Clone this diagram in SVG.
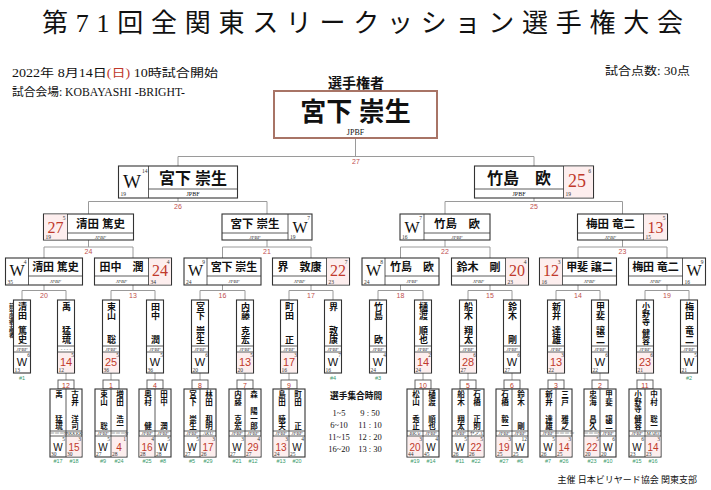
<svg xmlns="http://www.w3.org/2000/svg" width="711" height="490" viewBox="0 0 711 490">
<style>
.bx{fill:#fff;stroke:#333;stroke-width:1.1}
.ch{fill:#fff;stroke:#a87466;stroke-width:2}
.dv{stroke:#333;stroke-width:0.8;fill:none}
.ln{stroke:#9a9a9a;stroke-width:1;fill:none}
.cl{font-family:"Liberation Sans",sans-serif;font-size:7px;fill:#c0504d;text-anchor:middle}
.nm{font-family:"Liberation Serif","Noto Sans CJK JP",serif;font-weight:bold;fill:#111;text-anchor:middle}
.vn{font-family:"Liberation Serif","Noto Sans CJK JP",serif;font-weight:bold;fill:#111;writing-mode:vertical-rl}
.ve{text-anchor:end}
.af{font-family:"Liberation Serif",serif;font-style:italic;font-size:5px;text-anchor:middle;fill:#333}
.sw{font-family:"Liberation Serif",serif;text-anchor:middle;fill:#111}
.ss{font-family:"Liberation Sans",sans-serif;text-anchor:middle;font-size:11px;fill:#111}
.sp{font-family:"Liberation Sans",sans-serif;text-anchor:middle;font-size:10px;fill:#111}
.r{fill:#c0392b}
.sm{font-family:"Liberation Serif",serif;font-size:5.5px;fill:#333}
.e{text-anchor:end}
.sd{font-family:"Liberation Sans",sans-serif;font-size:5.5px;fill:#3a9a6a;text-anchor:middle}
.pk{fill:#fdeeee;stroke:none}
.hd{font-family:"Liberation Serif","Noto Sans CJK JP",serif;fill:#111}
.nb{font-family:"Liberation Sans",sans-serif;font-size:7px;fill:#c0392b;text-anchor:middle}
.nbx{fill:#fff;stroke:#555;stroke-width:0.9}
</style>

<!-- header -->
<g id="header">
<text class="hd" x="42" y="32" font-size="26" textLength="641" lengthAdjust="spacing">第71回全関東スリークッション選手権大会</text>
<text class="hd" x="12" y="77" font-size="11.5" textLength="206" lengthAdjust="spacingAndGlyphs">2022年 8月14日<tspan class="r">(日)</tspan> 10時試合開始</text>
<text class="hd" x="12" y="96" font-size="11.5" textLength="173" lengthAdjust="spacingAndGlyphs">試合会場: KOBAYASHI -BRIGHT-</text>
<text class="hd" x="605" y="75" font-size="11.5" textLength="85" lengthAdjust="spacingAndGlyphs">試合点数: 30点</text>
<text class="hd" x="356" y="88" font-size="14" font-weight="bold" text-anchor="middle">選手権者</text>
<text class="hd" x="330" y="399" font-size="8.7" font-weight="bold">選手集合時間</text>
<text class="hd r" x="339" y="416" font-size="8.5" text-anchor="middle">1~5</text>
<text class="hd r" x="339" y="428" font-size="8.5" text-anchor="middle">6~10</text>
<text class="hd r" x="339" y="440" font-size="8.5" text-anchor="middle">11~15</text>
<text class="hd r" x="339" y="452" font-size="8.5" text-anchor="middle">16~20</text>
<text class="hd" x="370" y="416" font-size="8.5" text-anchor="middle">9 : 50</text>
<text class="hd" x="370" y="428" font-size="8.5" text-anchor="middle">11 : 10</text>
<text class="hd" x="370" y="440" font-size="8.5" text-anchor="middle">12 : 20</text>
<text class="hd" x="370" y="452" font-size="8.5" text-anchor="middle">13 : 30</text>
<text class="hd" x="697" y="483" font-size="9" text-anchor="end">主催 日本ビリヤード協会 関東支部</text>
<text class="vn" x="10.5" y="303" font-size="5" font-weight="normal">前年度選手権者</text>
</g>

<!-- connectors -->
<g id="connectors">
<path class="ln" d="M355.5 138V156.5M178 156.5H534M178 156.5V166M534 156.5V166"/>
<path class="ln" d="M178 198V201.5M88.5 201.5H267M88.5 201.5V214M267 201.5V214"/>
<path class="ln" d="M534 198V201.5M445 201.5H622.5M445 201.5V214M622.5 201.5V214"/>
<path class="ln" d="M88.5 240V247M44 247H133M44 247V258M133 247V258"/>
<path class="ln" d="M267 240V247M222.5 247H311M222.5 247V258M311 247V258"/>
<path class="ln" d="M445 240V247M400.5 247H490M400.5 247V258M490 247V258"/>
<path class="ln" d="M622.5 240V247M578 247H667M578 247V258M667 247V258"/>
<path class="ln" d="M44 285V290.5M22 290.5H66M22 290.5V300M66 290.5V300"/>
<path class="ln" d="M133 285V290.5M111 290.5H155M111 290.5V300M155 290.5V300"/>
<path class="ln" d="M222.5 285V290.5M200 290.5H245M200 290.5V300M245 290.5V300"/>
<path class="ln" d="M311 285V290.5M289 290.5H333M289 290.5V300M333 290.5V300"/>
<path class="ln" d="M400.5 285V290.5M378 290.5H423M378 290.5V300M423 290.5V300"/>
<path class="ln" d="M490 285V290.5M468 290.5H512M468 290.5V300M512 290.5V300"/>
<path class="ln" d="M578 285V290.5M556 290.5H600M556 290.5V300M600 290.5V300"/>
<path class="ln" d="M667 285V290.5M645 290.5H689M645 290.5V300M689 290.5V300"/>
<path class="ln" d="M66 373V380M111 373V380M155 373V380M200 373V380M245 373V380M289 373V380M423 373V380M468 373V380M512 373V380M556 373V380M600 373V380M645 373V380"/>
<text class="cl" x="356" y="164">27</text>
<text class="cl" x="178" y="209">26</text>
<text class="cl" x="534" y="209">25</text>
<text class="cl" x="88.5" y="254">24</text>
<text class="cl" x="267" y="254">21</text>
<text class="cl" x="445" y="254">22</text>
<text class="cl" x="622.5" y="254">23</text>
<text class="cl" x="44" y="297.5">20</text>
<text class="cl" x="133" y="297.5">13</text>
<text class="cl" x="222.5" y="297.5">16</text>
<text class="cl" x="311" y="297.5">17</text>
<text class="cl" x="400.5" y="297.5">18</text>
<text class="cl" x="490" y="297.5">15</text>
<text class="cl" x="578" y="297.5">14</text>
<text class="cl" x="667" y="297.5">19</text>
</g>

<!-- champion -->
<g id="champion">
<rect class="ch" x="274" y="91" width="163" height="47"/>
<text class="nm" x="355.5" y="121" font-size="26">宮下 崇生</text>
<text class="sw" x="355.5" y="135" font-size="8">JPBF</text>
</g>

<!-- level 2 -->
<g id="f-miyashita">
<rect class="bx" x="118.5" y="166" width="119" height="32"/>
<path class="dv" d="M148.5 166V198M148.5 189H237.5"/>
<text class="nm" x="193" y="184" font-size="16">宮下 崇生</text>
<text class="sw" x="193" y="196" font-size="6">JPBF</text>
<text class="sw" x="132" y="188" font-size="19">W</text>
<text class="sm e" x="147.5" y="172.5">14</text>
<text class="sm" x="120.5" y="196">19</text>
</g>
<g id="f-takeshima">
<rect class="bx" x="474.5" y="166" width="119" height="32"/>
<rect class="pk" x="564" y="166.6" width="29" height="30.8"/>
<path class="dv" d="M563.5 166V198M474.5 189H563.5"/>
<text class="nm" x="519" y="184" font-size="16">竹島　欧</text>
<text class="sw" x="519" y="196" font-size="6">JPBF</text>
<text class="sw r" x="577" y="187" font-size="18">25</text>
<text class="sm e" x="591" y="172.5">6</text>
<text class="sm r" x="565.5" y="196">19</text>
</g>

<!-- level 3 -->
<g id="s-kiyota">
<rect class="bx" x="43.5" y="214" width="90" height="26"/>
<rect class="pk" x="44" y="214.5" width="23" height="25"/>
<path class="dv" d="M67.5 214V240M67.5 233H133.5"/>
<text class="nm" x="100.5" y="228" font-size="11.5">清田 篤史</text>
<text class="af" x="100.5" y="238.5">JPBF</text>
<text class="sw r" x="55.5" y="232.5" font-size="16">27</text>
<text class="sm e" x="65.5" y="220">5</text>
<text class="sm r" x="45.5" y="239">19</text>
</g>
<g id="s-miyashita">
<rect class="bx" x="222" y="214" width="90" height="26"/>
<path class="dv" d="M288 214V240M222 233H288"/>
<text class="nm" x="255" y="228" font-size="11.5">宮下 崇生</text>
<text class="af" x="255" y="238.5">JPBF</text>
<text class="sw" x="300" y="232.5" font-size="16">W</text>
<text class="sm e" x="310" y="220">7</text>
<text class="sm" x="290" y="239">19</text>
</g>
<g id="s-takeshima">
<rect class="bx" x="400" y="214" width="90" height="26"/>
<path class="dv" d="M424 214V240M424 233H490"/>
<text class="nm" x="457" y="228" font-size="11.5">竹島　欧</text>
<text class="af" x="457" y="238.5">JPBF</text>
<text class="sw" x="412" y="232.5" font-size="16">W</text>
<text class="sm e" x="422" y="220">7</text>
<text class="sm" x="402" y="239">16</text>
</g>
<g id="s-umeda">
<rect class="bx" x="577.5" y="214" width="90" height="26"/>
<rect class="pk" x="644" y="214.5" width="23" height="25"/>
<path class="dv" d="M643.5 214V240M577.5 233H643.5"/>
<text class="nm" x="610.5" y="228" font-size="11.5">梅田 竜二</text>
<text class="af" x="610.5" y="238.5">JPBF</text>
<text class="sw r" x="655.5" y="232.5" font-size="16">13</text>
<text class="sm e" x="665.5" y="220">5</text>
<text class="sm r" x="645.5" y="239">15</text>
</g>

<!-- level 4 -->
<g id="q-kiyota">
<rect class="bx" x="5.5" y="258" width="77" height="27"/>
<path class="dv" d="M28.5 258V285M28.5 276H82.5"/>
<text class="nm" x="55.5" y="271" font-size="11">清田 篤史</text>
<text class="af" x="55.5" y="283">JPBF</text>
<text class="sw" x="17" y="276" font-size="16">W</text>
<text class="sm e" x="26.5" y="264">4</text>
<text class="sm" x="7.5" y="284">35</text>
</g>
<g id="q-tanaka">
<rect class="bx" x="94.5" y="258" width="77" height="27"/>
<rect class="pk" x="149" y="258.5" width="22" height="26"/>
<path class="dv" d="M148.5 258V285M94.5 276H148.5"/>
<text class="nm" x="121.5" y="271" font-size="11">田中　潤</text>
<text class="af" x="121.5" y="283">JPBF</text>
<text class="sw r" x="160" y="276" font-size="16">24</text>
<text class="sm e" x="169.5" y="264">4</text>
<text class="sm r" x="150.5" y="284">34</text>
</g>
<g id="q-miyashita">
<rect class="bx" x="184" y="258" width="77" height="27"/>
<path class="dv" d="M207 258V285M207 276H261"/>
<text class="nm" x="234" y="271" font-size="11">宮下 崇生</text>
<text class="af" x="234" y="283">JPBF</text>
<text class="sw" x="195.5" y="276" font-size="16">W</text>
<text class="sm e" x="205" y="264">9</text>
<text class="sm" x="186" y="284">24</text>
</g>
<g id="q-sakai">
<rect class="bx" x="272.5" y="258" width="77" height="27"/>
<rect class="pk" x="327" y="258.5" width="22" height="26"/>
<path class="dv" d="M326.5 258V285M272.5 276H326.5"/>
<text class="nm" x="299.5" y="271" font-size="11">界　敦康</text>
<text class="af" x="299.5" y="283">JPBF</text>
<text class="sw r" x="338" y="276" font-size="16">22</text>
<text class="sm e" x="347.5" y="264">7</text>
<text class="sm r" x="328.5" y="284">23</text>
</g>
<g id="q-takeshima">
<rect class="bx" x="362" y="258" width="77" height="27"/>
<path class="dv" d="M385 258V285M385 276H439"/>
<text class="nm" x="412" y="271" font-size="11">竹島　欧</text>
<text class="af" x="412" y="283">JPBF</text>
<text class="sw" x="373.5" y="276" font-size="16">W</text>
<text class="sm e" x="383" y="264">8</text>
<text class="sm" x="364" y="284">24</text>
</g>
<g id="q-suzuki">
<rect class="bx" x="451.5" y="258" width="77" height="27"/>
<rect class="pk" x="506" y="258.5" width="22" height="26"/>
<path class="dv" d="M505.5 258V285M451.5 276H505.5"/>
<text class="nm" x="478.5" y="271" font-size="11">鈴木　剛</text>
<text class="af" x="478.5" y="283">JPBF</text>
<text class="sw r" x="517" y="276" font-size="16">20</text>
<text class="sm e" x="526.5" y="264">4</text>
<text class="sm r" x="507.5" y="284">23</text>
</g>
<g id="q-kai">
<rect class="bx" x="539.5" y="258" width="77" height="27"/>
<rect class="pk" x="540" y="258.5" width="22" height="26"/>
<path class="dv" d="M562.5 258V285M562.5 276H616.5"/>
<text class="nm" x="589.5" y="271" font-size="11">甲斐 譲二</text>
<text class="af" x="589.5" y="283">JPBF</text>
<text class="sw r" x="551" y="276" font-size="16">12</text>
<text class="sm e" x="560.5" y="264">3</text>
<text class="sm r" x="541.5" y="284">16</text>
</g>
<g id="q-umeda">
<rect class="bx" x="628.5" y="258" width="77" height="27"/>
<path class="dv" d="M682.5 258V285M628.5 276H682.5"/>
<text class="nm" x="655.5" y="271" font-size="11">梅田 竜二</text>
<text class="af" x="655.5" y="283">JPBF</text>
<text class="sw" x="694" y="276" font-size="16">W</text>
<text class="sm e" x="703.5" y="264">9</text>
<text class="sm" x="684.5" y="284">16</text>
</g>

<!-- level 5 (round of 16) -->
<g id="r-kiyota">
<rect class="bx" x="13.5" y="300" width="17" height="73"/>
<path class="dv" d="M13.5 346H30.5M13.5 352H30.5"/>
<text class="vn" x="22" y="302" font-size="9">清田</text>
<text class="vn ve" x="22" y="344" font-size="9">篤史</text>
<text class="af" x="22" y="350.5">JPBF</text>
<text class="ss" x="22" y="365.5">W</text>
<text class="sm e" x="30" y="357">6</text>
<text class="sm" x="14.5" y="372">13</text>
<text class="sd" x="22" y="379.5">#1</text>
</g>
<g id="r-u">
<rect class="bx" x="57.5" y="300" width="17" height="73"/>
<rect class="pk" x="58" y="352.5" width="16" height="20"/>
<path class="dv" d="M57.5 346H74.5M57.5 352H74.5"/>
<text class="vn" x="66" y="302" font-size="9">禹</text>
<text class="vn ve" x="66" y="344" font-size="9">猛琉</text>
<text class="af" x="66" y="350.5">- - - -</text>
<text class="ss r" x="66" y="365.5">14</text>
<text class="sm e" x="74" y="357">5</text>
<text class="sm r" x="58.5" y="372">12</text>
</g>
<g id="r-tsukayama">
<rect class="bx" x="102.5" y="300" width="17" height="73"/>
<rect class="pk" x="103" y="352.5" width="16" height="20"/>
<path class="dv" d="M102.5 346H119.5M102.5 352H119.5"/>
<text class="vn" x="111" y="302" font-size="9">束山</text>
<text class="vn ve" x="111" y="344" font-size="9">聡</text>
<text class="af" x="111" y="350.5">JPBF</text>
<text class="ss r" x="111" y="365.5">25</text>
<text class="sm e" x="119" y="357">5</text>
<text class="sm r" x="103.5" y="372">36</text>
</g>
<g id="r-tanaka">
<rect class="bx" x="146.5" y="300" width="17" height="73"/>
<path class="dv" d="M146.5 346H163.5M146.5 352H163.5"/>
<text class="vn" x="155" y="302" font-size="9">田中</text>
<text class="vn ve" x="155" y="344" font-size="9">潤</text>
<text class="af" x="155" y="350.5">JPBF</text>
<text class="ss" x="155" y="365.5">W</text>
<text class="sm e" x="163" y="357">5</text>
<text class="sm" x="147.5" y="372">36</text>
</g>
<g id="r-miyashita">
<rect class="bx" x="191.5" y="300" width="17" height="73"/>
<path class="dv" d="M191.5 346H208.5M191.5 352H208.5"/>
<text class="vn" x="200" y="302" font-size="9">宮下</text>
<text class="vn ve" x="200" y="344" font-size="9">崇生</text>
<text class="af" x="200" y="350.5">JPBF</text>
<text class="ss" x="200" y="365.5">W</text>
<text class="sm e" x="208" y="357">6</text>
<text class="sm" x="192.5" y="372">20</text>
</g>
<g id="r-naito">
<rect class="bx" x="236.5" y="300" width="17" height="73"/>
<rect class="pk" x="237" y="352.5" width="16" height="20"/>
<path class="dv" d="M236.5 346H253.5M236.5 352H253.5"/>
<text class="vn" x="245" y="302" font-size="9">内藤</text>
<text class="vn ve" x="245" y="344" font-size="9">克宏</text>
<text class="af" x="245" y="350.5">JPBF</text>
<text class="ss r" x="245" y="365.5">13</text>
<text class="sm e" x="253" y="357">5</text>
<text class="sm r" x="237.5" y="372">20</text>
</g>
<g id="r-machida">
<rect class="bx" x="280.5" y="300" width="17" height="73"/>
<rect class="pk" x="281" y="352.5" width="16" height="20"/>
<path class="dv" d="M280.5 346H297.5M280.5 352H297.5"/>
<text class="vn" x="289" y="302" font-size="9">町田</text>
<text class="vn ve" x="289" y="344" font-size="9">正</text>
<text class="af" x="289" y="350.5">JPBF</text>
<text class="ss r" x="289" y="365.5">17</text>
<text class="sm e" x="297" y="357">3</text>
<text class="sm r" x="281.5" y="372">16</text>
</g>
<g id="r-sakai">
<rect class="bx" x="324.5" y="300" width="17" height="73"/>
<path class="dv" d="M324.5 346H341.5M324.5 352H341.5"/>
<text class="vn" x="333" y="302" font-size="9">界</text>
<text class="vn ve" x="333" y="344" font-size="9">敦康</text>
<text class="af" x="333" y="350.5">JPBF</text>
<text class="ss" x="333" y="365.5">W</text>
<text class="sm e" x="341" y="357">7</text>
<text class="sm" x="325.5" y="372">16</text>
<text class="sd" x="333" y="379.5">#4</text>
</g>
<g id="r-takeshima">
<rect class="bx" x="369.5" y="300" width="17" height="73"/>
<path class="dv" d="M369.5 346H386.5M369.5 352H386.5"/>
<text class="vn" x="378" y="302" font-size="9">竹島</text>
<text class="vn ve" x="378" y="344" font-size="9">欧</text>
<text class="af" x="378" y="350.5">JPBF</text>
<text class="ss" x="378" y="365.5">W</text>
<text class="sm e" x="386" y="357">4</text>
<text class="sm" x="370.5" y="372">24</text>
<text class="sd" x="378" y="379.5">#3</text>
</g>
<g id="r-hiwatashi">
<rect class="bx" x="414.5" y="300" width="17" height="73"/>
<rect class="pk" x="415" y="352.5" width="16" height="20"/>
<path class="dv" d="M414.5 346H431.5M414.5 352H431.5"/>
<text class="vn" x="423" y="302" font-size="9">樋渡</text>
<text class="vn ve" x="423" y="344" font-size="9">順也</text>
<text class="af" x="423" y="350.5">JPBF</text>
<text class="ss r" x="423" y="365.5">14</text>
<text class="sm e" x="431" y="357">2</text>
<text class="sm r" x="415.5" y="372">24</text>
</g>
<g id="r-funaki">
<rect class="bx" x="459.5" y="300" width="17" height="73"/>
<rect class="pk" x="460" y="352.5" width="16" height="20"/>
<path class="dv" d="M459.5 346H476.5M459.5 352H476.5"/>
<text class="vn" x="468" y="302" font-size="9">船木</text>
<text class="vn ve" x="468" y="344" font-size="9">翔太</text>
<text class="af" x="468" y="350.5">JPBF</text>
<text class="ss r" x="468" y="365.5">28</text>
<text class="sm e" x="476" y="357">6</text>
<text class="sm r" x="460.5" y="372">27</text>
</g>
<g id="r-suzuki">
<rect class="bx" x="503.5" y="300" width="17" height="73"/>
<path class="dv" d="M503.5 346H520.5M503.5 352H520.5"/>
<text class="vn" x="512" y="302" font-size="9">鈴木</text>
<text class="vn ve" x="512" y="344" font-size="9">剛</text>
<text class="af" x="512" y="350.5">JPBF</text>
<text class="ss" x="512" y="365.5">W</text>
<text class="sm e" x="520" y="357">6</text>
<text class="sm" x="504.5" y="372">27</text>
</g>
<g id="r-arai">
<rect class="bx" x="547.5" y="300" width="17" height="73"/>
<rect class="pk" x="548" y="352.5" width="16" height="20"/>
<path class="dv" d="M547.5 346H564.5M547.5 352H564.5"/>
<text class="vn" x="556" y="302" font-size="9">新井</text>
<text class="vn ve" x="556" y="344" font-size="9">達雄</text>
<text class="af" x="556" y="350.5">JPBF</text>
<text class="ss r" x="556" y="365.5">13</text>
<text class="sm e" x="564" y="357">3</text>
<text class="sm r" x="548.5" y="372">22</text>
</g>
<g id="r-kai">
<rect class="bx" x="591.5" y="300" width="17" height="73"/>
<path class="dv" d="M591.5 346H608.5M591.5 352H608.5"/>
<text class="vn" x="600" y="302" font-size="9">甲斐</text>
<text class="vn ve" x="600" y="344" font-size="9">譲二</text>
<text class="af" x="600" y="350.5">JPBF</text>
<text class="ss" x="600" y="365.5">W</text>
<text class="sm e" x="608" y="357">6</text>
<text class="sm" x="592.5" y="372">22</text>
</g>
<g id="r-onodera">
<rect class="bx" x="636.5" y="300" width="17" height="73"/>
<rect class="pk" x="637" y="352.5" width="16" height="20"/>
<path class="dv" d="M636.5 346H653.5M636.5 352H653.5"/>
<text class="vn" x="645" y="302" font-size="8">小野寺</text>
<text class="vn ve" x="645" y="345" font-size="8">健容</text>
<text class="af" x="645" y="350.5">JPBF</text>
<text class="ss r" x="645" y="365.5">23</text>
<text class="sm e" x="653" y="357">6</text>
<text class="sm r" x="637.5" y="372">21</text>
</g>
<g id="r-umeda">
<rect class="bx" x="680.5" y="300" width="17" height="73"/>
<path class="dv" d="M680.5 346H697.5M680.5 352H697.5"/>
<text class="vn" x="689" y="302" font-size="9">梅田</text>
<text class="vn ve" x="689" y="344" font-size="9">竜二</text>
<text class="af" x="689" y="350.5">JPBF</text>
<text class="ss" x="689" y="365.5">W</text>
<text class="sm e" x="697" y="357">5</text>
<text class="sm" x="681.5" y="372">21</text>
<text class="sd" x="689" y="379.5">#2</text>
</g>

<!-- first round pairs -->
<g id="m12">
<rect class="nbx" x="58" y="380" width="16" height="9"/>
<text class="nb" x="66" y="387.5">12</text>
<rect class="bx" x="50" y="389" width="32" height="68"/>
<rect class="pk" x="66.5" y="436.5" width="15" height="20"/>
<path class="dv" d="M66 389V457M50 431H82M50 436H82"/>
<text class="vn" x="58" y="390.5" font-size="7.5">禹</text>
<text class="vn ve" x="58" y="430" font-size="7.5">猛琉</text>
<text class="vn" x="74" y="390.5" font-size="7.5">古井</text>
<text class="vn ve" x="74" y="430" font-size="7.5">洋司</text>
<text class="af" x="58" y="434.8" font-size="3.5">ーーーN</text>
<text class="af" x="74" y="434.8" font-size="3.5">NKKKK</text>
<text class="sp" x="58" y="450.5">W</text>
<text class="sp r" x="74" y="450.5">15</text>
<text class="sm e" x="65" y="441" font-size="5">5</text>
<text class="sm e" x="81" y="441" font-size="5">3</text>
<text class="sm" x="51" y="456" font-size="5">30</text>
<text class="sm r" x="67" y="456" font-size="5">30</text>
<text class="sd" x="58" y="463">#17</text>
<text class="sd" x="74" y="463">#18</text>
</g>
<g id="m1">
<rect class="nbx" x="103" y="380" width="16" height="9"/>
<text class="nb" x="111" y="387.5">1</text>
<rect class="bx" x="95" y="389" width="32" height="68"/>
<rect class="pk" x="111.5" y="436.5" width="15" height="20"/>
<path class="dv" d="M111 389V457M95 431H127M95 436H127"/>
<text class="vn" x="103" y="390.5" font-size="7.5">束山</text>
<text class="vn ve" x="103" y="430" font-size="7.5">聡</text>
<text class="vn" x="119" y="390.5" font-size="7.5">増田</text>
<text class="vn ve" x="119" y="430" font-size="7.5">浩一</text>
<text class="af" x="103" y="434.8" font-size="3.5">JPBF</text>
<text class="af" x="119" y="434.8" font-size="3.5">ーーーN</text>
<text class="sp" x="103" y="450.5">W</text>
<text class="sp r" x="119" y="450.5">4</text>
<text class="sm e" x="110" y="441" font-size="5">5</text>
<text class="sm e" x="126" y="441" font-size="5">1</text>
<text class="sm" x="96" y="456" font-size="5">27</text>
<text class="sm r" x="112" y="456" font-size="5">28</text>
<text class="sd" x="103" y="463">#9</text>
<text class="sd" x="119" y="463">#24</text>
</g>
<g id="m4">
<rect class="nbx" x="147" y="380" width="16" height="9"/>
<text class="nb" x="155" y="387.5">4</text>
<rect class="bx" x="139" y="389" width="32" height="68"/>
<rect class="pk" x="139.5" y="436.5" width="15" height="20"/>
<path class="dv" d="M155 389V457M139 431H171M139 436H171"/>
<text class="vn" x="147" y="390.5" font-size="7.5">奥村</text>
<text class="vn ve" x="147" y="430" font-size="7.5">健</text>
<text class="vn" x="163" y="390.5" font-size="7.5">田中</text>
<text class="vn ve" x="163" y="430" font-size="7.5">潤</text>
<text class="af" x="147" y="434.8" font-size="3.5">JPBF</text>
<text class="af" x="163" y="434.8" font-size="3.5">JPBF</text>
<text class="sp r" x="147" y="450.5">16</text>
<text class="sp" x="163" y="450.5">W</text>
<text class="sm e" x="154" y="441" font-size="5">4</text>
<text class="sm e" x="170" y="441" font-size="5">5</text>
<text class="sm r" x="140" y="456" font-size="5">28</text>
<text class="sm" x="156" y="456" font-size="5">28</text>
<text class="sd" x="147" y="463">#25</text>
<text class="sd" x="163" y="463">#8</text>
</g>
<g id="m8">
<rect class="nbx" x="192" y="380" width="16" height="9"/>
<text class="nb" x="200" y="387.5">8</text>
<rect class="bx" x="184" y="389" width="32" height="68"/>
<rect class="pk" x="200.5" y="436.5" width="15" height="20"/>
<path class="dv" d="M200 389V457M184 431H216M184 436H216"/>
<text class="vn" x="192" y="390.5" font-size="7.5">宮下</text>
<text class="vn ve" x="192" y="430" font-size="7.5">崇生</text>
<text class="vn" x="208" y="390.5" font-size="7.5">林田</text>
<text class="vn ve" x="208" y="430" font-size="7.5">和明</text>
<text class="af" x="192" y="434.8" font-size="3.5">JPBF</text>
<text class="af" x="208" y="434.8" font-size="3.5">AKU</text>
<text class="sp" x="192" y="450.5">W</text>
<text class="sp r" x="208" y="450.5">17</text>
<text class="sm e" x="199" y="441" font-size="5">5</text>
<text class="sm e" x="215" y="441" font-size="5">3</text>
<text class="sm" x="185" y="456" font-size="5">27</text>
<text class="sm r" x="201" y="456" font-size="5">26</text>
<text class="sd" x="192" y="463">#5</text>
<text class="sd" x="208" y="463">#29</text>
</g>
<g id="m7">
<rect class="nbx" x="237" y="380" width="16" height="9"/>
<text class="nb" x="245" y="387.5">7</text>
<rect class="bx" x="229" y="389" width="32" height="68"/>
<rect class="pk" x="245.5" y="436.5" width="15" height="20"/>
<path class="dv" d="M245 389V457M229 431H261M229 436H261"/>
<text class="vn" x="237" y="390.5" font-size="7.5">内藤</text>
<text class="vn ve" x="237" y="430" font-size="7.5">克宏</text>
<text class="vn" x="253" y="390.5" font-size="7.5">森</text>
<text class="vn ve" x="253" y="430" font-size="7.5">陽一郎</text>
<text class="af" x="237" y="434.8" font-size="3.5">JPBF</text>
<text class="af" x="253" y="434.8" font-size="3.5">JPBF</text>
<text class="sp" x="237" y="450.5">W</text>
<text class="sp r" x="253" y="450.5">29</text>
<text class="sm e" x="244" y="441" font-size="5">3</text>
<text class="sm e" x="260" y="441" font-size="5">4</text>
<text class="sm" x="230" y="456" font-size="5">27</text>
<text class="sm r" x="246" y="456" font-size="5">27</text>
<text class="sd" x="237" y="463">#21</text>
<text class="sd" x="253" y="463">#12</text>
</g>
<g id="m9">
<rect class="nbx" x="281" y="380" width="16" height="9"/>
<text class="nb" x="289" y="387.5">9</text>
<rect class="bx" x="273" y="389" width="32" height="68"/>
<rect class="pk" x="273.5" y="436.5" width="15" height="20"/>
<path class="dv" d="M289 389V457M273 431H305M273 436H305"/>
<text class="vn" x="281" y="390.5" font-size="7.5">島田</text>
<text class="vn ve" x="281" y="430" font-size="7.5">暁夫</text>
<text class="vn" x="297" y="390.5" font-size="7.5">町田</text>
<text class="vn ve" x="297" y="430" font-size="7.5">正</text>
<text class="af" x="281" y="434.8" font-size="3.5">JPBF</text>
<text class="af" x="297" y="434.8" font-size="3.5">JPBF</text>
<text class="sp r" x="281" y="450.5">13</text>
<text class="sp" x="297" y="450.5">W</text>
<text class="sm e" x="288" y="441" font-size="5">3</text>
<text class="sm e" x="304" y="441" font-size="5">4</text>
<text class="sm r" x="274" y="456" font-size="5">24</text>
<text class="sm" x="290" y="456" font-size="5">25</text>
<text class="sd" x="281" y="463">#13</text>
<text class="sd" x="297" y="463">#20</text>
</g>
<g id="m10">
<rect class="nbx" x="415" y="380" width="16" height="9"/>
<text class="nb" x="423" y="387.5">10</text>
<rect class="bx" x="407" y="389" width="32" height="68"/>
<rect class="pk" x="407.5" y="436.5" width="15" height="20"/>
<path class="dv" d="M423 389V457M407 431H439M407 436H439"/>
<text class="vn" x="415" y="390.5" font-size="7.5">松山</text>
<text class="vn ve" x="415" y="430" font-size="7.5">秀正</text>
<text class="vn" x="431" y="390.5" font-size="7.5">樋渡</text>
<text class="vn ve" x="431" y="430" font-size="7.5">順也</text>
<text class="af" x="415" y="434.8" font-size="3.5">BKAi</text>
<text class="af" x="431" y="434.8" font-size="3.5">JPBF</text>
<text class="sp r" x="415" y="450.5">20</text>
<text class="sp" x="431" y="450.5">W</text>
<text class="sm e" x="422" y="441" font-size="5">3</text>
<text class="sm e" x="438" y="441" font-size="5">4</text>
<text class="sm r" x="408" y="456" font-size="5">44</text>
<text class="sm" x="424" y="456" font-size="5">45</text>
<text class="sd" x="415" y="463">#19</text>
<text class="sd" x="431" y="463">#14</text>
</g>
<g id="m5">
<rect class="nbx" x="460" y="380" width="16" height="9"/>
<text class="nb" x="468" y="387.5">5</text>
<rect class="bx" x="452" y="389" width="32" height="68"/>
<rect class="pk" x="468.5" y="436.5" width="15" height="20"/>
<path class="dv" d="M468 389V457M452 431H484M452 436H484"/>
<text class="vn" x="460" y="390.5" font-size="7.5">船木</text>
<text class="vn ve" x="460" y="430" font-size="7.5">翔太</text>
<text class="vn" x="476" y="390.5" font-size="7.5">石橋</text>
<text class="vn ve" x="476" y="430" font-size="7.5">正則</text>
<text class="af" x="460" y="434.8" font-size="3.5">JPBF</text>
<text class="af" x="476" y="434.8" font-size="3.5">ヤメA</text>
<text class="sp" x="460" y="450.5">W</text>
<text class="sp r" x="476" y="450.5">22</text>
<text class="sm e" x="467" y="441" font-size="5">5</text>
<text class="sm e" x="483" y="441" font-size="5">5</text>
<text class="sm" x="453" y="456" font-size="5">26</text>
<text class="sm r" x="469" y="456" font-size="5">26</text>
<text class="sd" x="460" y="463">#11</text>
<text class="sd" x="476" y="463">#22</text>
</g>
<g id="m6">
<rect class="nbx" x="504" y="380" width="16" height="9"/>
<text class="nb" x="512" y="387.5">6</text>
<rect class="bx" x="496" y="389" width="32" height="68"/>
<rect class="pk" x="496.5" y="436.5" width="15" height="20"/>
<path class="dv" d="M512 389V457M496 431H528M496 436H528"/>
<text class="vn" x="504" y="390.5" font-size="7.5">石橋</text>
<text class="vn ve" x="504" y="430" font-size="7.5">毅一</text>
<text class="vn" x="520" y="390.5" font-size="7.5">鈴木</text>
<text class="vn ve" x="520" y="430" font-size="7.5">剛</text>
<text class="af" x="504" y="434.8" font-size="3.5">JPBF</text>
<text class="af" x="520" y="434.8" font-size="3.5">JPBF</text>
<text class="sp r" x="504" y="450.5">19</text>
<text class="sp" x="520" y="450.5">W</text>
<text class="sm e" x="511" y="441" font-size="5">3</text>
<text class="sm e" x="527" y="441" font-size="5">12</text>
<text class="sm r" x="497" y="456" font-size="5">25</text>
<text class="sm" x="513" y="456" font-size="5">25</text>
<text class="sd" x="504" y="463">#27</text>
<text class="sd" x="520" y="463">#6</text>
</g>
<g id="m3">
<rect class="nbx" x="548" y="380" width="16" height="9"/>
<text class="nb" x="556" y="387.5">3</text>
<rect class="bx" x="540" y="389" width="32" height="68"/>
<rect class="pk" x="556.5" y="436.5" width="15" height="20"/>
<path class="dv" d="M556 389V457M540 431H572M540 436H572"/>
<text class="vn" x="548" y="390.5" font-size="7.5">新井</text>
<text class="vn ve" x="548" y="430" font-size="7.5">達雄</text>
<text class="vn" x="564" y="390.5" font-size="7.5">三戸</text>
<text class="vn ve" x="564" y="430" font-size="7.5">雅之</text>
<text class="af" x="548" y="434.8" font-size="3.5">JPBF</text>
<text class="af" x="564" y="434.8" font-size="3.5">ーーーー</text>
<text class="sp" x="548" y="450.5">W</text>
<text class="sp r" x="564" y="450.5">14</text>
<text class="sm e" x="555" y="441" font-size="5">5</text>
<text class="sm e" x="571" y="441" font-size="5">3</text>
<text class="sm" x="541" y="456" font-size="5">26</text>
<text class="sm r" x="557" y="456" font-size="5">25</text>
<text class="sd" x="548" y="463">#7</text>
<text class="sd" x="564" y="463">#26</text>
</g>
<g id="m2">
<rect class="nbx" x="592" y="380" width="16" height="9"/>
<text class="nb" x="600" y="387.5">2</text>
<rect class="bx" x="584" y="389" width="32" height="68"/>
<rect class="pk" x="584.5" y="436.5" width="15" height="20"/>
<path class="dv" d="M600 389V457M584 431H616M584 436H616"/>
<text class="vn" x="592" y="390.5" font-size="7.5">忠海</text>
<text class="vn ve" x="592" y="430" font-size="7.5">昌久</text>
<text class="vn" x="608" y="390.5" font-size="7.5">甲斐</text>
<text class="vn ve" x="608" y="430" font-size="7.5">譲二</text>
<text class="af" x="592" y="434.8" font-size="3.5">ーーーN</text>
<text class="af" x="608" y="434.8" font-size="3.5">JPBF</text>
<text class="sp r" x="592" y="450.5">22</text>
<text class="sp" x="608" y="450.5">W</text>
<text class="sm e" x="599" y="441" font-size="5">5</text>
<text class="sm e" x="615" y="441" font-size="5">6</text>
<text class="sm r" x="585" y="456" font-size="5">20</text>
<text class="sm" x="601" y="456" font-size="5">20</text>
<text class="sd" x="592" y="463">#23</text>
<text class="sd" x="608" y="463">#10</text>
</g>
<g id="m11">
<rect class="nbx" x="637" y="380" width="16" height="9"/>
<text class="nb" x="645" y="387.5">11</text>
<rect class="bx" x="629" y="389" width="32" height="68"/>
<rect class="pk" x="645.5" y="436.5" width="15" height="20"/>
<path class="dv" d="M645 389V457M629 431H661M629 436H661"/>
<text class="vn" x="637" y="390.5" font-size="7.5">小野寺</text>
<text class="vn ve" x="637" y="430" font-size="7.5">健容</text>
<text class="vn" x="653" y="390.5" font-size="7.5">中村</text>
<text class="vn ve" x="653" y="430" font-size="7.5">聡一</text>
<text class="af" x="637" y="434.8" font-size="3.5">JPBF</text>
<text class="af" x="653" y="434.8" font-size="3.5">MARS</text>
<text class="sp" x="637" y="450.5">W</text>
<text class="sp r" x="653" y="450.5">14</text>
<text class="sm e" x="644" y="441" font-size="5">6</text>
<text class="sm e" x="660" y="441" font-size="5">3</text>
<text class="sm" x="630" y="456" font-size="5">23</text>
<text class="sm r" x="646" y="456" font-size="5">23</text>
<text class="sd" x="637" y="463">#15</text>
<text class="sd" x="653" y="463">#16</text>
</g>
</svg>
